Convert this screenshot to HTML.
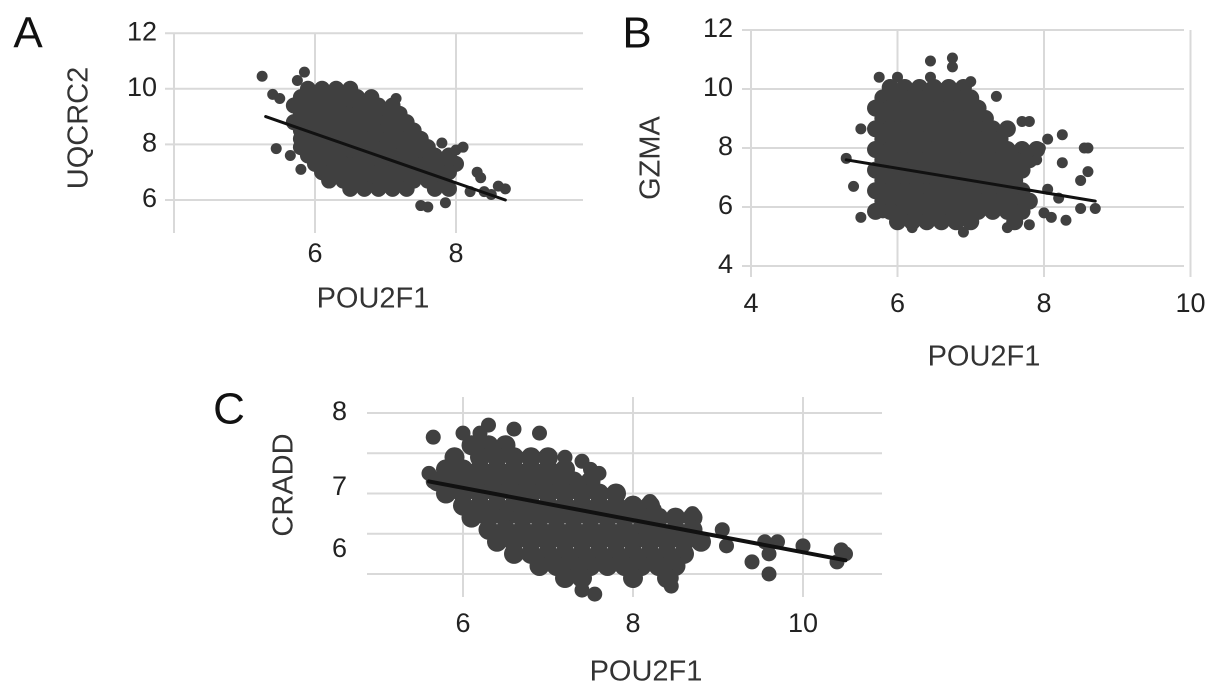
<!DOCTYPE html>
<html><head><meta charset="utf-8"><style>
html,body{margin:0;padding:0;background:#fff;}
svg{display:block;font-family:"Liberation Sans",sans-serif;}
</style></head><body>
<svg id="fig" width="1205" height="699" viewBox="0 0 1205 699"></svg>
<script>
// ---------- Panel A data ----------
const aXTicks=[4,6,8];
const aXTickLabels=["","6","8"];
const aYTicks=[12,10,8,6];
const aRowsY=[10.0,9.7,9.4,9.1,8.8,8.5,8.2,7.9,7.6,7.3,7.0,6.7,6.4];
const aRowsX=[[5.9,6.1,6.3,6.5],[5.8,6.0,6.2,6.4,6.6,6.8],[5.7,5.9,6.1,6.3,6.5,6.7,6.9,7.1],[5.8,6.0,6.2,6.4,6.6,6.8,7.0,7.2],[5.7,5.9,6.1,6.3,6.5,6.7,6.9,7.1,7.3],[5.8,6.0,6.2,6.4,6.6,6.8,7.0,7.2,7.4],[5.8,5.9,6.1,6.3,6.5,6.7,6.9,7.1,7.3,7.5],[5.8,6.0,6.2,6.4,6.6,6.8,7.0,7.2,7.4,7.6],[5.9,6.1,6.3,6.5,6.7,6.9,7.1,7.3,7.5,7.7,7.9],[6.0,6.2,6.4,6.6,6.8,7.0,7.2,7.4,7.6,7.8,8.0],[6.1,6.3,6.5,6.7,6.9,7.1,7.3,7.5,7.7,7.9],[6.2,6.4,6.6,6.8,7.0,7.2,7.4,7.6,7.8],[6.5,6.7,6.9,7.1,7.3,7.7,7.9]];
const aOut=[[5.25,10.45],[5.4,9.8],[5.5,9.65],[5.85,10.6],[5.75,10.3],[5.45,7.85],[5.65,7.6],[5.8,7.1],[7.15,9.65],[8.0,7.8],[8.1,7.9],[7.8,8.05],[8.3,7.0],[8.35,6.8],[8.5,6.2],[8.6,6.5],[8.7,6.4],[8.4,6.3],[7.5,5.8],[7.6,5.75],[7.85,5.9],[8.2,6.3]];
const aFit=[[5.3,9.0],[8.7,6.0]];
// ---------- Panel B data ----------
const bXTicks=[4,6,8,10];
const bXTickLabels=["4","6","8","10"];
const bYTicks=[12,10,8,6,4];
const bRowsY=[10.05,9.7,9.35,9.0,8.65,8.3,7.95,7.6,7.25,6.9,6.55,6.2,5.85,5.5];
const bRowsX=[[5.9,6.1,6.3,6.5,6.7,6.9],[5.8,6.0,6.2,6.4,6.6,6.8,7.0],[5.7,5.9,6.1,6.3,6.5,6.7,6.9,7.1],[5.8,6.0,6.2,6.4,6.6,6.8,7.0,7.2],[5.7,5.9,6.1,6.3,6.5,6.7,6.9,7.1,7.3,7.5],[5.8,6.0,6.2,6.4,6.6,6.8,7.0,7.2,7.4],[5.7,5.9,6.1,6.3,6.5,6.7,6.9,7.1,7.3,7.5,7.7,7.9],[5.8,6.0,6.2,6.4,6.6,6.8,7.0,7.2,7.4,7.6,7.8],[5.7,5.9,6.1,6.3,6.5,6.7,6.9,7.1,7.3,7.5,7.7],[5.8,6.0,6.2,6.4,6.6,6.8,7.0,7.2,7.4,7.6],[5.7,5.9,6.1,6.3,6.5,6.7,6.9,7.1,7.3,7.5,7.7],[5.8,6.0,6.2,6.4,6.6,6.8,7.0,7.2,7.4,7.6,7.8],[5.7,5.9,6.1,6.3,6.5,6.7,6.9,7.1,7.3,7.5,7.7],[6.0,6.2,6.4,6.6,6.8,7.0,7.6]];
const bOut=[[5.3,7.65],[5.4,6.7],[5.5,5.65],[5.5,8.65],[5.75,10.4],[6.0,10.4],[6.45,10.95],[6.45,10.4],[6.75,11.05],[6.75,10.75],[7.0,10.25],[7.35,9.75],[7.7,8.9],[7.8,8.9],[7.5,8.6],[8.05,8.3],[8.25,8.45],[8.25,7.5],[8.55,8.0],[8.6,8.0],[8.6,7.2],[8.5,6.9],[8.05,6.6],[8.2,6.3],[8.5,5.95],[8.7,5.95],[8.0,5.8],[8.1,5.65],[8.3,5.55],[7.8,5.4],[7.5,5.3],[6.9,5.15],[6.2,5.3],[5.8,5.8],[7.95,8.0],[7.9,7.6]];
const bFit=[[5.3,7.6],[8.7,6.2]];
// ---------- Panel C data ----------
const cXTicks=[6,8,10];
const cXTickLabels=["6","8","10"];
const cYGrid=[8,7.5,7,6.5,6];
const cYLabelVals=[8,7.07,6.3];
const cYLabels=["8","7","6"];
const cRowsY=[7.6,7.45,7.3,7.15,7.0,6.85,6.7,6.55,6.4,6.25,6.1,5.95];
const cRowsX=[[6.1,6.3,6.5],[5.9,6.2,6.4,6.6,6.8,7.0],[5.8,6.0,6.2,6.4,6.6,6.8,7.0,7.2],[5.7,5.9,6.1,6.3,6.5,6.7,6.9,7.1,7.3,7.5],[5.8,6.0,6.2,6.4,6.6,6.8,7.0,7.2,7.4,7.6,7.8],[6.0,6.2,6.4,6.6,6.8,7.0,7.2,7.4,7.6,7.8,8.0,8.2],[6.1,6.3,6.5,6.7,6.9,7.1,7.3,7.5,7.7,7.9,8.1,8.3,8.5,8.7],[6.3,6.5,6.7,6.9,7.1,7.3,7.5,7.7,7.9,8.1,8.3,8.5,8.7],[6.4,6.6,6.8,7.0,7.2,7.4,7.6,7.8,8.0,8.2,8.4,8.6,8.8],[6.6,6.8,7.0,7.2,7.4,7.6,7.8,8.0,8.2,8.4,8.6],[6.9,7.1,7.3,7.5,7.7,7.9,8.1,8.3,8.5],[7.2,7.4,8.0,8.4]];
const cOut=[[5.65,7.7],[6.0,7.75],[6.2,7.75],[6.3,7.85],[6.6,7.8],[6.9,7.75],[7.2,7.45],[7.4,7.4],[7.5,7.3],[7.6,7.25],[8.2,6.9],[8.25,6.8],[8.7,6.75],[9.05,6.55],[9.1,6.35],[9.4,6.15],[9.55,6.4],[9.6,6.25],[9.7,6.4],[9.6,6.0],[10.0,6.35],[10.4,6.15],[10.45,6.3],[10.5,6.25],[7.4,5.8],[7.55,5.75],[8.45,5.85],[8.45,5.95],[5.6,7.25],[5.65,7.15]];
const cFit=[[5.6,7.15],[10.5,6.17]];

const NS="http://www.w3.org/2000/svg";
const svg=document.getElementById('fig');
function mk(tag,attrs,parent){const e=document.createElementNS(NS,tag);for(const k in attrs)e.setAttribute(k,attrs[k]);(parent||svg).appendChild(e);return e;}

function panel(o){
  const g=mk('g',{});
  
  
  const sx=v=>o.x0+(v-o.xv0)*o.kx, sy=v=>o.y0-(v-o.yv0)*o.ky;
  o.yGrid.forEach(v=>{const l=mk('line',{x1:o.gl,x2:o.gr,y1:sy(v),y2:sy(v),stroke:'#d9d9d9','stroke-width':2},g);
    });
  o.xTicks.forEach((v,i)=>{const l=mk('line',{x1:sx(v),x2:sx(v),y1:o.gt,y2:o.gb,stroke:'#d9d9d9','stroke-width':2},g);
    
    const t=mk('text',{x:sx(v),y:o.xLabY,'text-anchor':'middle','font-size':o.fs,fill:'#222','dominant-baseline':'middle'},g);
    t.textContent=o.xLabels[i];});
  o.yLabVals.forEach((v,i)=>{const t=mk('text',{x:o.yLabX,y:sy(v),'text-anchor':'end','font-size':o.fs,fill:'#222','dominant-baseline':'middle'},g);
    t.textContent=o.yLabels[i];});
  o.rowsY.forEach((y,i)=>o.rowsX[i].forEach(x=>{
    const c=mk('circle',{cx:sx(x),cy:sy(y),r:o.coreR,fill:'#404040'},g);
    
    
  }));
  o.out.forEach(p=>{const c=mk('circle',{cx:sx(p[0]),cy:sy(p[1]),r:o.r,fill:'#404040'},g);
    });
  const f=mk('line',{x1:sx(o.fit[0][0]),y1:sy(o.fit[0][1]),x2:sx(o.fit[1][0]),y2:sy(o.fit[1][1]),stroke:'#111','stroke-width':o.lw,'stroke-linecap':'round'},g);
  
  const xt=mk('text',{x:o.xtX,y:o.xtY,'text-anchor':'middle','font-size':o.tfs,fill:'#333','dominant-baseline':'middle'},g);
  xt.textContent='POU2F1';
  const yt=mk('text',{x:0,y:0,'text-anchor':'middle','font-size':o.tfs,fill:'#333','dominant-baseline':'middle',transform:`translate(${o.ytX},${o.ytY}) rotate(-90)`},g);
  yt.textContent=o.ytitle;
  const L=mk('text',{x:o.LX,y:o.LY,'text-anchor':'middle','font-size':44,fill:'#111','dominant-baseline':'middle'},g);
  L.textContent=o.letter;
}
panel({id:'a',letter:'A',LX:28,LY:36,x0:174,xv0:4,kx:70.5,y0:200,yv0:6,ky:27.8,gl:165,gr:583,gt:33,gb:233,
  yGrid:aYTicks,xTicks:aXTicks,xLabels:aXTickLabels,xLabY:255,yLabVals:aYTicks,yLabels:aYTicks.map(String),yLabX:157,fs:27,
  rowsY:aRowsY,rowsX:aRowsX,out:aOut,fit:aFit,r:5.5,coreR:8,lw:3,xtX:373,xtY:300,ytX:80,ytY:128,ytitle:'UQCRC2',tfs:29});
panel({id:'b',letter:'B',LX:637,LY:36,x0:751,xv0:4,kx:73.25,y0:207,yv0:6,ky:29.5,gl:742,gr:1184,gt:30,gb:277,
  yGrid:bYTicks,xTicks:bXTicks,xLabels:bXTickLabels,xLabY:305,yLabVals:bYTicks,yLabels:bYTicks.map(String),yLabX:733,fs:27,
  rowsY:bRowsY,rowsX:bRowsX,out:bOut,fit:bFit,r:5.5,coreR:8.5,lw:3,xtX:984,xtY:358,ytX:652,ytY:158,ytitle:'GZMA',tfs:29});
panel({id:'c',letter:'C',LX:229,LY:412,x0:463,xv0:6,kx:85,y0:574,yv0:6,ky:80.5,gl:367,gr:882,gt:397,gb:597,
  yGrid:cYGrid,xTicks:cXTicks,xLabels:cXTickLabels,xLabY:625,yLabVals:cYLabelVals,yLabels:cYLabels,yLabX:347,fs:27,
  rowsY:cRowsY,rowsX:cRowsX,out:cOut,fit:cFit,r:7.5,coreR:10,lw:4,xtX:646,xtY:673,ytX:285,ytY:485,ytitle:'CRADD',tfs:29});
</script>
</body></html>
